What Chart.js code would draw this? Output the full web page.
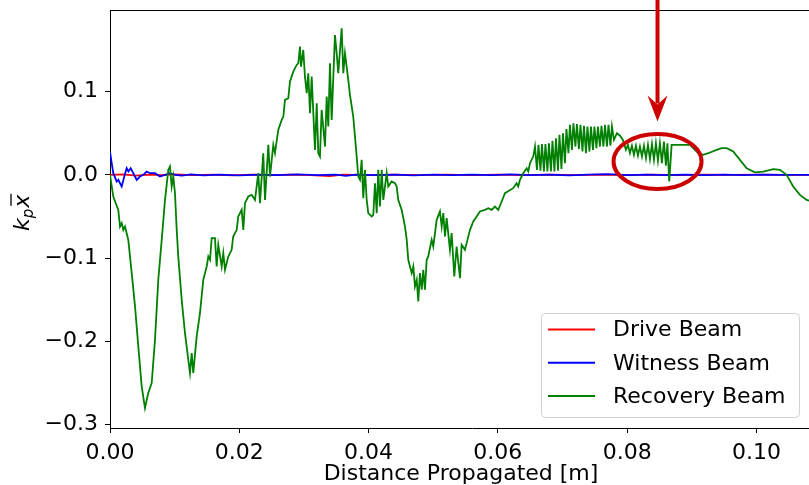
<!DOCTYPE html>
<html>
<head>
<meta charset="utf-8">
<script src="https://cdn.jsdelivr.net/npm/chart.js@4"></script>
<style>
    html, body { margin: 0; padding: 0; background: #fff; overflow: hidden; }
    .chart-wrap { position: relative; width: 840px; height: 485px; }
</style>
</head>
<body>
<div class="chart-wrap"><canvas id="centroidChart"></canvas></div>
<script>
// Beam centroid offset k_p * x-bar vs. distance propagated (m)
const seriesNames = ['Drive Beam', 'Witness Beam', 'Recovery Beam'];
const seriesColors = ['#ff0000', '#0000ff', '#008000'];

const xTicks = [0.00, 0.02, 0.04, 0.06, 0.08, 0.10];
const yTicks = [-0.3, -0.2, -0.1, 0.0, 0.1];

const driveBeam = [
    [0.000, 0.0000], [0.002, 0.0005], [0.004, -0.0008], [0.006, 0.0004], [0.008, -0.0003],
    [0.010, 0.0006], [0.013, -0.0004], [0.016, 0.0003], [0.019, -0.0005], [0.022, 0.0002],
    [0.025, -0.0003], [0.028, 0.0004], [0.031, -0.0002], [0.034, -0.0015], [0.036, 0.0003],
    [0.040, -0.0004], [0.044, 0.0002], [0.048, -0.0003], [0.052, 0.0004], [0.056, -0.0002],
    [0.060, 0.0003], [0.064, -0.0004], [0.068, 0.0002], [0.072, -0.0003], [0.076, 0.0002],
    [0.080, -0.0002], [0.084, 0.0003], [0.088, -0.0002], [0.092, 0.0002], [0.096, -0.0001],
    [0.100, 0.0002], [0.104, -0.0001], [0.110, 0.0000]
];

const witnessBeam = [
    [0.00000, 0.028], [0.00026, 0.014], [0.00051, 0.002], [0.00104, -0.008], [0.00128, -0.006],
    [0.00181, -0.014], [0.00221, -0.002], [0.00258, 0.008], [0.00285, 0.004], [0.00320, 0.008],
    [0.00360, 0.002], [0.00413, -0.006], [0.00464, -0.002], [0.00515, 0.000], [0.00568, 0.004],
    [0.00619, 0.002], [0.00696, 0.002], [0.00773, -0.002], [0.00851, 0.000], [0.00928, 0.002],
    [0.01005, 0.000], [0.01114, -0.001], [0.0125, 0.0005], [0.0145, -0.0005], [0.0170, 0.0003],
    [0.0200, -0.0006], [0.0230, 0.0004], [0.0260, -0.0003], [0.0290, 0.0005], [0.0320, -0.0002],
    [0.0350, 0.0004], [0.0365, -0.0012], [0.0380, 0.0003], [0.0410, -0.0004], [0.0440, 0.0002],
    [0.0470, -0.0005], [0.0500, 0.0003], [0.0530, -0.0002], [0.0560, 0.0004], [0.0590, -0.0003],
    [0.0620, 0.0005], [0.0650, -0.0002], [0.0680, 0.0003], [0.0710, -0.0006], [0.0740, 0.0004],
    [0.0770, 0.0010], [0.0800, -0.0003], [0.0830, 0.0004], [0.0860, -0.0002], [0.0890, 0.0003],
    [0.0920, -0.0003], [0.0950, 0.0002], [0.0980, -0.0002], [0.1010, 0.0002], [0.1040, -0.0001],
    [0.1070, 0.0001], [0.1100, 0.0000]
];

const recoveryBeam = [
    [0.00000, 0.000], [0.00051, -0.026], [0.00128, -0.042], [0.00155, -0.062], [0.00181, -0.058],
    [0.00206, -0.066], [0.00232, -0.062], [0.00258, -0.070], [0.00283, -0.078], [0.00336, -0.118],
    [0.00387, -0.158], [0.00438, -0.206], [0.00490, -0.254], [0.00541, -0.280], [0.00592, -0.262],
    [0.00645, -0.250], [0.00696, -0.198], [0.00747, -0.126], [0.00800, -0.078], [0.00851, -0.030],
    [0.00902, 0.006], [0.00928, 0.010], [0.00954, -0.014], [0.00979, -0.002], [0.01005, -0.022],
    [0.01032, -0.066], [0.01056, -0.098], [0.01109, -0.150], [0.01160, -0.190], [0.01211, -0.222],
    [0.01237, -0.238], [0.01264, -0.214], [0.01288, -0.238], [0.01341, -0.194], [0.01392, -0.166],
    [0.01443, -0.126], [0.01496, -0.110], [0.01521, -0.098], [0.01547, -0.102], [0.01573, -0.076],
    [0.01624, -0.076], [0.01650, -0.110], [0.01675, -0.084], [0.01728, -0.110], [0.01753, -0.094],
    [0.01779, -0.114], [0.01830, -0.098], [0.01882, -0.090], [0.01906, -0.074], [0.01960, -0.066],
    [0.01984, -0.050], [0.02037, -0.042], [0.02062, -0.066], [0.02088, -0.034],
    [0.02139, -0.026], [0.02192, -0.024], [0.02243, -0.030], [0.02294, 0.002], [0.02320, -0.034],
    [0.02371, 0.026], [0.02398, -0.030], [0.02449, 0.036], [0.02475, -0.002], [0.02526, 0.036],
    [0.02552, 0.026], [0.02603, 0.054], [0.02656, 0.066], [0.02682, 0.070], [0.02707, 0.090],
    [0.02758, 0.092], [0.02784, 0.112], [0.02835, 0.124], [0.02888, 0.132], [0.02913, 0.134],
    [0.02939, 0.154], [0.02955, 0.130], [0.02990, 0.150], [0.03016, 0.118], [0.03043, 0.098],
    [0.03067, 0.122], [0.03094, 0.074], [0.03120, 0.118], [0.03171, 0.030], [0.03198, 0.086],
    [0.03222, 0.026], [0.03248, 0.022], [0.03274, 0.078], [0.03326, 0.034], [0.03352, 0.094],
    [0.03377, 0.058], [0.03403, 0.134], [0.03429, 0.066], [0.03480, 0.168], [0.03507, 0.146],
    [0.03531, 0.122], [0.03584, 0.176], [0.03609, 0.122], [0.03635, 0.146], [0.03686, 0.114],
    [0.03712, 0.096], [0.03763, 0.070], [0.03790, 0.046], [0.03816, 0.022], [0.03841, -0.002],
    [0.03867, -0.006], [0.03893, 0.018], [0.03918, -0.028], [0.03944, 0.006], [0.03971, -0.030],
    [0.03995, -0.046], [0.04048, -0.050], [0.04073, -0.048], [0.04099, -0.010], [0.04126, -0.046],
    [0.04150, 0.006], [0.04176, -0.038], [0.04203, 0.006], [0.04228, -0.030], [0.04280, 0.002],
    [0.04305, -0.014], [0.04357, -0.008], [0.04408, -0.010], [0.04435, -0.014], [0.04459, -0.030],
    [0.04512, -0.042], [0.04563, -0.062], [0.04590, -0.078], [0.04614, -0.102], [0.04667, -0.118],
    [0.04692, -0.110], [0.04718, -0.134], [0.04745, -0.126], [0.04769, -0.152], [0.04795, -0.118],
    [0.04822, -0.138], [0.04846, -0.114], [0.04872, -0.138], [0.04899, -0.102], [0.04923, -0.098],
    [0.04976, -0.078], [0.05001, -0.086], [0.05054, -0.054], [0.05104, -0.044], [0.05131, -0.062],
    [0.05156, -0.046], [0.05182, -0.074], [0.05208, -0.052], [0.05259, -0.090], [0.05285, -0.070],
    [0.05326, -0.122], [0.05362, -0.086], [0.05414, -0.124], [0.05440, -0.084], [0.05491, -0.090],
    [0.05517, -0.082], [0.05569, -0.066], [0.05620, -0.056], [0.05672, -0.050], [0.05723, -0.044],
    [0.05800, -0.042], [0.05851, -0.040], [0.05904, -0.042], [0.05955, -0.038], [0.06006, -0.042],
    [0.06059, -0.032], [0.06110, -0.022], [0.06236, -0.016], [0.06290, -0.010], [0.06315, -0.014],
    [0.06342, -0.006], [0.06393, 0.002], [0.06446, 0.008], [0.06470, 0.004], [0.06497, 0.014],
    [0.06547, 0.022],
    [0.06574, 0.034], [0.06605, 0.006], [0.06628, 0.036], [0.06659, 0.005], [0.06682, 0.037],
    [0.06713, 0.004], [0.06736, 0.037], [0.06767, 0.004], [0.06790, 0.038], [0.06821, 0.004],
    [0.06845, 0.041], [0.06875, 0.004], [0.06899, 0.044], [0.06930, 0.005], [0.06953, 0.048],
    [0.06984, 0.007], [0.07007, 0.050], [0.07038, 0.014], [0.07061, 0.055], [0.07092, 0.026],
    [0.07115, 0.060], [0.07146, 0.030], [0.07169, 0.062], [0.07200, 0.034], [0.07223, 0.061],
    [0.07254, 0.031], [0.07278, 0.060], [0.07309, 0.028], [0.07332, 0.059], [0.07363, 0.026],
    [0.07386, 0.058], [0.07417, 0.028], [0.07440, 0.058], [0.07471, 0.030], [0.07494, 0.058],
    [0.07525, 0.032], [0.07548, 0.058], [0.07579, 0.034], [0.07603, 0.059], [0.07633, 0.034],
    [0.07657, 0.060], [0.07688, 0.034], [0.07711, 0.060], [0.07742, 0.035], [0.07765, 0.058],
    [0.07796, 0.042], [0.07842, 0.050], [0.07889, 0.047], [0.07935, 0.042],
    [0.07981, 0.030], [0.08012, 0.036], [0.08043, 0.026], [0.08074, 0.035], [0.08105, 0.024],
    [0.08136, 0.035], [0.08167, 0.023], [0.08198, 0.034], [0.08229, 0.022], [0.08260, 0.035],
    [0.08291, 0.020], [0.08322, 0.036], [0.08353, 0.019], [0.08384, 0.037], [0.08415, 0.018],
    [0.08445, 0.038], [0.08476, 0.017], [0.08507, 0.038], [0.08538, 0.014], [0.08569, 0.040],
    [0.08600, 0.011], [0.08623, 0.038], [0.08651, -0.008], [0.08688, 0.036],
    [0.08971, 0.036], [0.09022, 0.032], [0.09100, 0.026], [0.09177, 0.024], [0.09254, 0.026],
    [0.09384, 0.030], [0.09462, 0.032], [0.09539, 0.032], [0.09641, 0.028], [0.09745, 0.018],
    [0.09849, 0.008], [0.09977, 0.003], [0.10105, 0.004], [0.10260, 0.007], [0.10363, 0.006],
    [0.10467, 0.000], [0.10569, -0.014], [0.10673, -0.024], [0.10776, -0.030], [0.10859, -0.032]
];

// highlighted region: arrow tip and ellipse centre in data units
const markX = 0.0847;
const arrowTipY = 0.064;
const ellipseY = 0.016;

const FONT = 'DejaVu Sans';

document.addEventListener('DOMContentLoaded', function() {
    const toXY = pts => pts.map(p => ({ x: p[0], y: p[1] }));
    const fmtMinus = s => s.replace('-', '\u2212');

    // frame, axis titles, legend and the red highlight
    const extras = {
        id: 'extras',
        afterDatasetsDraw(chart) {
            const { ctx, chartArea: ca, scales } = chart;
            const xs = scales.x, ys = scales.y;
            ctx.save();

            // top frame line
            ctx.strokeStyle = '#000';
            ctx.lineWidth = 1;
            ctx.beginPath();
            ctx.moveTo(ca.left, ca.top + 0.5);
            ctx.lineTo(ca.right, ca.top + 0.5);
            ctx.stroke();

            // legend box
            const lx = 541, ly = 313, lw = 258, lh = 104;
            ctx.beginPath();
            ctx.roundRect(lx + 0.5, ly + 0.5, lw, lh, 4);
            ctx.fillStyle = 'rgba(255,255,255,0.85)';
            ctx.fill();
            ctx.strokeStyle = '#d0d0d0';
            ctx.stroke();
            ctx.font = '22px "' + FONT + '"';
            ctx.textBaseline = 'middle';
            seriesNames.forEach((name, i) => {
                const y = 329.5 + i * 33.3;
                ctx.strokeStyle = seriesColors[i];
                ctx.lineWidth = 2;
                ctx.beginPath();
                ctx.moveTo(548, y);
                ctx.lineTo(595, y);
                ctx.stroke();
                ctx.fillStyle = '#000';
                ctx.fillText(name, 613, y + 1);
            });

            // x axis title
            ctx.textAlign = 'center';
            ctx.textBaseline = 'alphabetic';
            ctx.fillText('Distance Propagated [m]', 461, 480);

            // y axis title: k_p x-bar, rotated
            ctx.translate(29, 211);
            ctx.rotate(-Math.PI / 2);
            ctx.textAlign = 'left';
            ctx.font = 'italic 22px "' + FONT + '"';
            ctx.fillText('k', -20, 0);
            const kw = ctx.measureText('k').width;
            ctx.font = 'italic 15px "' + FONT + '"';
            ctx.fillText('p', -20 + kw, 4);
            const pw = ctx.measureText('p').width;
            ctx.font = 'italic 22px "' + FONT + '"';
            const xx = -20 + kw + pw + 1;
            ctx.fillText('x', xx, 0);
            const xw = ctx.measureText('x').width;
            ctx.lineWidth = 1.3;
            ctx.strokeStyle = '#000';
            ctx.beginPath();
            ctx.moveTo(xx + 2, -18);
            ctx.lineTo(xx + xw + 1, -18);
            ctx.stroke();
            ctx.setTransform(1, 0, 0, 1, 0, 0);

            // red arrow and ellipse
            const ax = xs.getPixelForValue(markX);
            const tipY = ys.getPixelForValue(arrowTipY);
            ctx.strokeStyle = '#cc0000';
            ctx.fillStyle = '#cc0000';
            ctx.lineWidth = 4;
            ctx.beginPath();
            ctx.moveTo(ax, 0);
            ctx.lineTo(ax, tipY - 18);
            ctx.stroke();
            ctx.beginPath();
            ctx.moveTo(ax, tipY);
            ctx.lineTo(ax - 10, tipY - 26);
            ctx.lineTo(ax, tipY - 17);
            ctx.lineTo(ax + 10, tipY - 26);
            ctx.closePath();
            ctx.fill();

            const ey = ys.getPixelForValue(ellipseY);
            ctx.beginPath();
            ctx.ellipse(ax, ey, 44, 27.5, 0, 0, Math.PI * 2);
            ctx.stroke();

            ctx.restore();
        }
    };

    const datasets = [driveBeam, witnessBeam, recoveryBeam].map((pts, i) => ({
        label: seriesNames[i],
        data: toXY(pts),
        borderColor: seriesColors[i],
        borderWidth: 1.8,
        pointRadius: 0,
        tension: 0,
        fill: false,
        order: 3 - i
    }));

    new Chart(document.getElementById('centroidChart'), {
        type: 'line',
        data: { datasets: datasets },
        options: {
            responsive: true,
            maintainAspectRatio: false,
            animation: false,
            layout: { padding: { top: 10, right: 6, left: 0, bottom: 0 } },
            plugins: {
                legend: { display: false },
                tooltip: { enabled: false }
            },
            scales: {
                x: {
                    type: 'linear',
                    min: 0,
                    max: 0.112,
                    afterFit: s => { s.height = 57; s.paddingLeft = 0; s.paddingRight = 0; },
                    afterBuildTicks: s => { s.ticks = xTicks.map(v => ({ value: v })); },
                    grid: { drawOnChartArea: false, drawTicks: true, tickLength: 5, color: '#000' },
                    border: { color: '#000', width: 1 },
                    ticks: {
                        color: '#000',
                        padding: 7,
                        maxRotation: 0,
                        font: { family: FONT, size: 22 },
                        callback: v => v.toFixed(2)
                    }
                },
                y: {
                    min: -0.304,
                    max: 0.198,
                    afterFit: s => { s.width = 110; s.paddingTop = 0; s.paddingBottom = 0; },
                    afterBuildTicks: s => { s.ticks = yTicks.map(v => ({ value: v })); },
                    grid: { drawOnChartArea: false, drawTicks: true, tickLength: 5, color: '#000' },
                    border: { color: '#000', width: 1 },
                    ticks: {
                        color: '#000',
                        padding: 7,
                        font: { family: FONT, size: 22 },
                        callback: v => fmtMinus(v.toFixed(1))
                    }
                }
            }
        },
        plugins: [extras]
    });
});
</script>
</body>
</html>
